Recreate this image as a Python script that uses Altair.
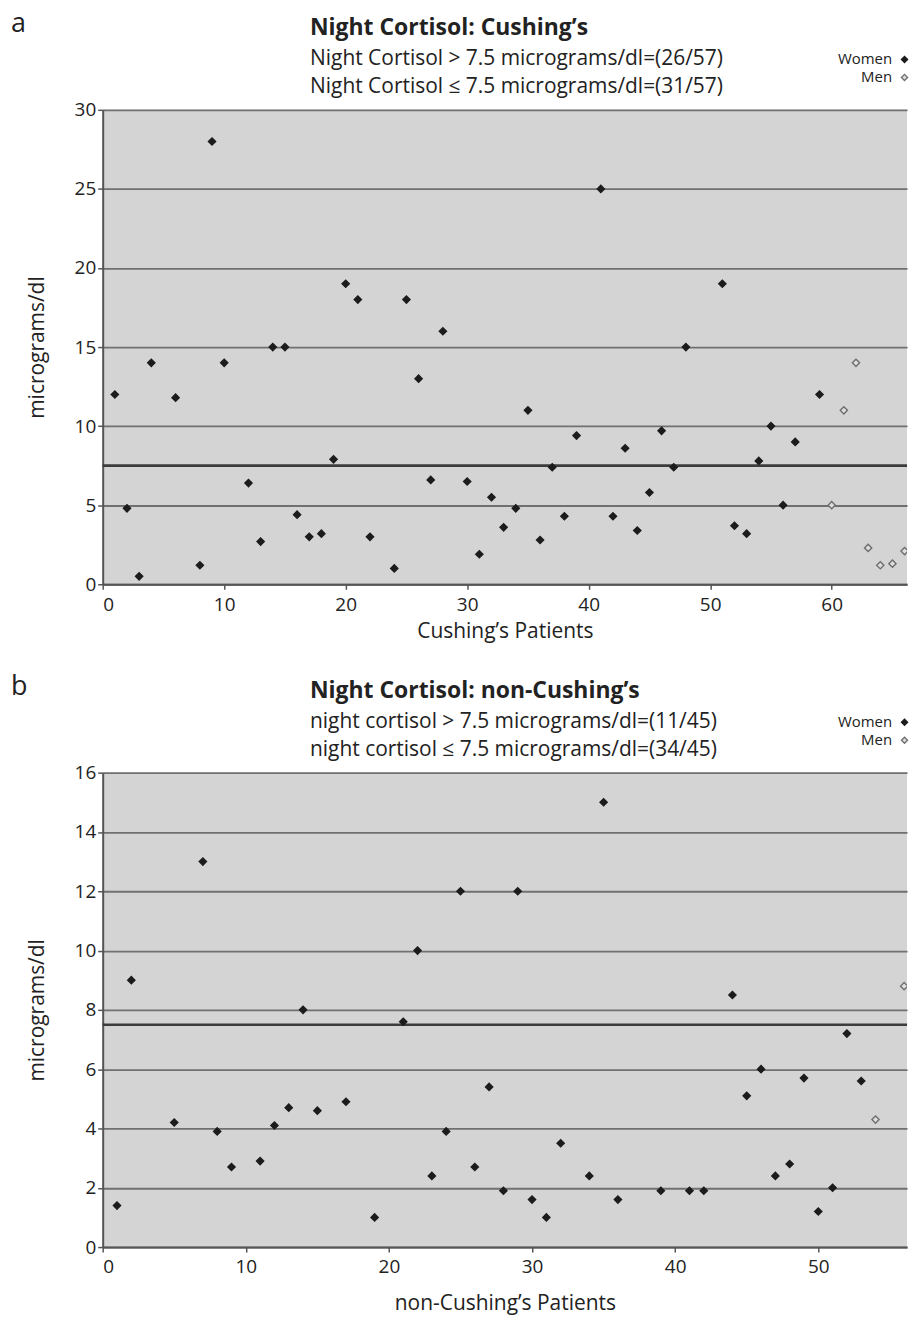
import altair as alt
import pandas as pd

FONT = "Open Sans"
TXT = "#222222"
threshold = 7.5

# ---- Panel a: Cushing's patients ----
a_women_patient = [1, 2, 3, 4, 6, 8, 9, 10, 12, 13, 14, 15, 16, 17, 18, 19, 20, 21, 22, 24,
                   25, 26, 27, 28, 30, 31, 32, 33, 34, 35, 36, 37, 38, 39, 41, 42, 43, 44, 45, 46,
                   47, 48, 51, 52, 53, 54, 55, 56, 57, 59]
a_women_value = [12, 4.8, 0.5, 14, 11.8, 1.2, 28, 14, 6.4, 2.7, 15, 15, 4.4, 3.0, 3.2, 7.9, 19, 18, 3.0, 1.0,
                 18, 13, 6.6, 16, 6.5, 1.9, 5.5, 3.6, 4.8, 11, 2.8, 7.4, 4.3, 9.4, 25, 4.3, 8.6, 3.4, 5.8, 9.7,
                 7.4, 15, 19, 3.7, 3.2, 7.8, 10, 5.0, 9.0, 12]
a_men_patient = [60, 61, 62, 63, 64, 65, 66]
a_men_value = [5.0, 11, 14, 2.3, 1.2, 1.3, 2.1]

# ---- Panel b: non-Cushing's patients ----
b_women_patient = [1, 2, 5, 7, 8, 9, 11, 12, 13, 14, 15, 17, 19, 21, 22, 23, 24, 25, 26, 27,
                   28, 29, 30, 31, 32, 34, 35, 36, 39, 41, 42, 44, 45, 46, 47, 48, 49, 50, 51, 52, 53]
b_women_value = [1.4, 9.0, 4.2, 13, 3.9, 2.7, 2.9, 4.1, 4.7, 8.0, 4.6, 4.9, 1.0, 7.6, 10, 2.4, 3.9, 12, 2.7, 5.4,
                 1.9, 12, 1.6, 1.0, 3.5, 2.4, 15, 1.6, 1.9, 1.9, 1.9, 8.5, 5.1, 6.0, 2.4, 2.8, 5.7, 1.2, 2.0, 7.2, 5.6]
b_men_patient = [54, 56]
b_men_value = [4.3, 8.8]

sexes = ["Women", "Men"]
fill_colors = ["#1c1c1c", "#dedede"]
stroke_colors = ["#1c1c1c", "#6e6e6e"]


def frame(wp, wv, mp, mv):
    return pd.DataFrame({
        "patient": wp + mp,
        "value": wv + mv,
        "sex": ["Women"] * len(wp) + ["Men"] * len(mp),
    })


def panel(df, xmax, ymax, ystep, height, title, subs, xtitle, letter, xtitlepad):
    leg = alt.Legend(
        title=None, orient="none", legendX=797, legendY=-58,
        labelAlign="right", labelOffset={"expr": "-20"}, labelFontSize=15, labelFont=FONT,
        labelColor=TXT, symbolType="diamond", symbolSize=38, rowPadding=2,
        padding=0, symbolStrokeWidth=1.3,
    )
    xaxis = alt.Axis(values=list(range(0, int(xmax) + 1, 10)), title=xtitle, grid=False,
                     labelPadding=6, titlePadding=xtitlepad, tickSize=5)
    yaxis = alt.Axis(values=list(range(0, ymax + 1, ystep)), title="micrograms/dl", grid=True,
                     labelPadding=2, titlePadding=27, tickSize=5)
    xs = alt.Scale(domain=[0, xmax], nice=False, zero=True)
    ys = alt.Scale(domain=[0, ymax], nice=False)

    pts = alt.Chart(df).mark_point(shape="diamond", filled=True, size=52, strokeWidth=1.4,
                                   opacity=1, clip=True).encode(
        x=alt.X("patient:Q", scale=xs, axis=xaxis),
        y=alt.Y("value:Q", scale=ys, axis=yaxis),
        fill=alt.Fill("sex:N", scale=alt.Scale(domain=sexes, range=fill_colors), legend=leg),
        stroke=alt.Stroke("sex:N", scale=alt.Scale(domain=sexes, range=stroke_colors), legend=leg),
    )
    rule = alt.Chart(pd.DataFrame({"t": [threshold]})).mark_rule(
        color="#3c3c3c", strokeWidth=2.6).encode(y=alt.Y("t:Q", scale=ys))
    lab = alt.Chart(pd.DataFrame({"l": [letter]})).mark_text(
        align="left", baseline="middle", fontSize=27, font=FONT, color=TXT).encode(
        text="l:N", x=alt.value(-92), y=alt.value(-86))
    return alt.layer(rule, pts, lab).properties(
        width=807, height=height,
        title=alt.TitleParams(
            text=title, subtitle=subs, anchor="start", frame="group", dx=208,
            font=FONT, fontSize=23, fontWeight="bold", color=TXT,
            subtitleFont=FONT, subtitleFontSize=21, subtitleColor=TXT,
            subtitleLineHeight=28, subtitlePadding=8, offset={"expr": "-87"},
        ),
    )


chart_a = panel(frame(a_women_patient, a_women_value, a_men_patient, a_men_value),
                66.2, 30, 5, 476, "Night Cortisol: Cushing’s",
                ["Night Cortisol > 7.5 micrograms/dl=(26/57)", "Night Cortisol ≤ 7.5 micrograms/dl=(31/57)"],
                "Cushing’s Patients", "a", 6)
chart_b = panel(frame(b_women_patient, b_women_value, b_men_patient, b_men_value),
                56.2, 16, 2, 476, "Night Cortisol: non-Cushing’s",
                ["night cortisol > 7.5 micrograms/dl=(11/45)", "night cortisol ≤ 7.5 micrograms/dl=(34/45)"],
                "non-Cushing’s Patients", "b", 16)

chart = alt.vconcat(chart_a, chart_b, spacing=32).resolve_scale(
    x="independent", y="independent", fill="independent", stroke="independent"
).properties(
    padding={"left": 3, "top": 0, "right": 0, "bottom": 2},
    background="white",
).configure_view(
    fill="#d4d4d4", stroke=None
).configure_axis(
    domainColor="#555555", domainWidth=2, tickColor="#555555", tickWidth=1.5,
    labelFont=FONT, labelFontSize=19, labelColor=TXT,
    titleFont=FONT, titleFontSize=21, titleFontWeight="normal", titleColor=TXT,
    gridColor="#707070", gridWidth=1.8,
)

chart.save("out.html", embed_options={"renderer": "svg", "actions": False})
